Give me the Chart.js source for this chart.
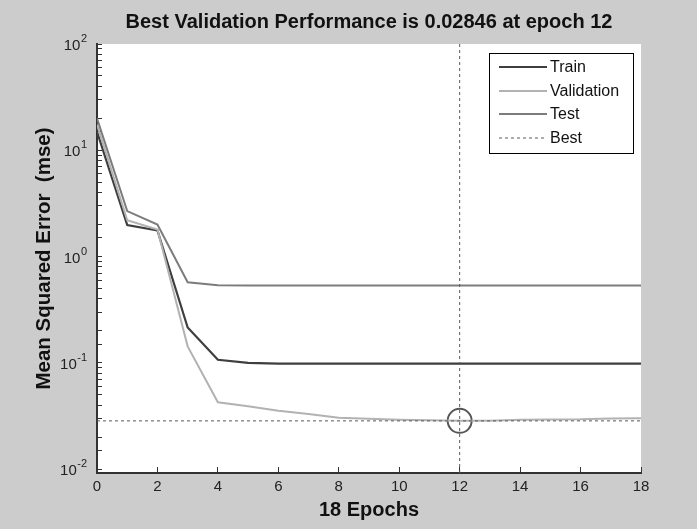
<!DOCTYPE html>
<html>
<head>
<meta charset="utf-8">
<script src="https://cdn.jsdelivr.net/npm/chart.js@4.4.1/dist/chart.umd.min.js"></script>
<style>
  html, body { margin: 0; padding: 0; background: #cccccc; }
  #wrap { width: 697px; height: 529px; }
</style>
</head>
<body>
<div id="wrap"><canvas id="c" width="697" height="529"></canvas></div>
<script>
const epochs = [0,1,2,3,4,5,6,7,8,9,10,11,12,13,14,15,16,17,18];
const trainMSE = [15, 1.98, 1.76, 0.215, 0.107, 0.100, 0.0985, 0.0985, 0.0985, 0.0985, 0.0985, 0.0985, 0.0985, 0.0985, 0.0985, 0.0985, 0.0985, 0.0985, 0.0985];
const validationMSE = [17.5, 2.2, 1.8, 0.143, 0.0426, 0.039, 0.0355, 0.033, 0.0305, 0.0298, 0.0292, 0.0288, 0.02846, 0.0285, 0.0292, 0.0293, 0.0294, 0.0300, 0.0302];
const testMSE = [20, 2.68, 2.0, 0.573, 0.536, 0.535, 0.535, 0.535, 0.535, 0.535, 0.535, 0.535, 0.535, 0.535, 0.535, 0.535, 0.535, 0.535, 0.535];
const bestEpoch = 12;
const bestValue = 0.02846;
const yMin = 0.0092, yMax = 100;
const xTickLabels = ['0','2','4','6','8','10','12','14','16','18'];
const yDecadeExponents = ['2','1','0','-1','-2'];

const FONT = "'Liberation Sans', Arial, sans-serif";
const colTrain = '#3e3e3e', colVal = '#b2b2b2', colTest = '#7c7c7c', colBest = '#5a5a5a';

const bgPlugin = {
  id: 'bg',
  beforeDraw(chart) {
    const {ctx, chartArea: a} = chart;
    ctx.save();
    ctx.fillStyle = '#cccccc';
    ctx.fillRect(0, 0, chart.width, chart.height);
    ctx.fillStyle = '#ffffff';
    ctx.fillRect(a.left, a.top, a.right - a.left, a.bottom - a.top);
    ctx.restore();
  }
};

// y tick labels "10" with a raised exponent, positioned by the log scale
const powerLabelPlugin = {
  id: 'powerLabels',
  afterDraw(chart) {
    const ctx = chart.ctx;
    const s = chart.scales.y;
    const xRight = 87;
    ctx.save();
    ctx.fillStyle = '#222222';
    yDecadeExponents.forEach(ex => {
      const y = s.getPixelForValue(Math.pow(10, Number(ex)));
      ctx.font = '11px ' + FONT;
      const ew = ctx.measureText(ex).width;
      ctx.textAlign = 'left';
      ctx.textBaseline = 'alphabetic';
      ctx.fillText(ex, xRight - ew, y - 2);
      ctx.font = '15px ' + FONT;
      ctx.textAlign = 'right';
      ctx.textBaseline = 'middle';
      ctx.fillText('10', xRight - ew - 0.5, y + 2);
    });
    ctx.restore();
  }
};

const legendPlugin = {
  id: 'boxLegend',
  afterDatasetsDraw(chart) {
    const ctx = chart.ctx;
    const x0 = 489, y0 = 53, w = 144, h = 100;
    ctx.save();
    ctx.fillStyle = '#ffffff';
    ctx.fillRect(x0, y0, w, h);
    ctx.strokeStyle = '#000000';
    ctx.lineWidth = 1;
    ctx.strokeRect(x0 + 0.5, y0 + 0.5, w, h);
    const items = [
      {label: 'Train', color: colTrain, dash: [], width: 2, y: 67},
      {label: 'Validation', color: colVal, dash: [], width: 2, y: 91},
      {label: 'Test', color: colTest, dash: [], width: 2, y: 114},
      {label: 'Best', color: colBest, dash: [3,3], width: 1, y: 138}
    ];
    ctx.font = '16px ' + FONT;
    ctx.textBaseline = 'middle';
    ctx.textAlign = 'left';
    items.forEach(it => {
      ctx.beginPath();
      ctx.setLineDash(it.dash);
      ctx.strokeStyle = it.color;
      ctx.lineWidth = it.width;
      ctx.moveTo(499, it.y);
      ctx.lineTo(547, it.y);
      ctx.stroke();
      ctx.setLineDash([]);
      ctx.fillStyle = '#111111';
      ctx.fillText(it.label, 550, it.y + 1);
    });
    ctx.restore();
  }
};

function toXY(arr) { return epochs.map((e, i) => ({x: e, y: arr[i]})); }

new Chart(document.getElementById('c'), {
  type: 'line',
  data: {
    datasets: [
      {label: 'Best', data: [{x: 0, y: bestValue}, {x: 18, y: bestValue}], borderColor: colBest, borderWidth: 1, borderDash: [3,3], pointRadius: 0, fill: false},
      {label: 'Best epoch', data: [{x: bestEpoch, y: yMin}, {x: bestEpoch, y: yMax}], borderColor: colBest, borderWidth: 1, borderDash: [3,3], pointRadius: 0, fill: false},
      {label: 'Test', data: toXY(testMSE), borderColor: colTest, borderWidth: 2, pointRadius: 0, tension: 0, fill: false},
      {label: 'Validation', data: toXY(validationMSE), borderColor: colVal, borderWidth: 2, pointRadius: 0, tension: 0, fill: false},
      {label: 'Train', data: toXY(trainMSE), borderColor: colTrain, borderWidth: 2.2, pointRadius: 0, tension: 0, fill: false},
      {label: 'Best point', data: [{x: bestEpoch, y: bestValue}], showLine: false, pointRadius: 12, pointHoverRadius: 12, pointStyle: 'circle', pointBackgroundColor: 'rgba(0,0,0,0)', pointBorderColor: '#555555', pointBorderWidth: 2}
    ]
  },
  options: {
    responsive: false,
    animation: false,
    events: [],
    layout: {padding: {left: 0, right: 56, top: 0, bottom: 0}},
    plugins: {
      legend: {display: false},
      tooltip: {enabled: false},
      title: {
        display: true,
        fullSize: false,
        text: 'Best Validation Performance is 0.02846 at epoch 12',
        color: '#111111',
        font: {family: FONT, size: 20, weight: 'bold', lineHeight: 1.2},
        padding: {top: 10, bottom: 10}
      }
    },
    scales: {
      x: {
        type: 'linear',
        min: 0, max: 18,
        afterFit(s) { s.height = 56; },
        afterBuildTicks(s) { s.ticks = xTickLabels.map(v => ({value: Number(v)})); },
        ticks: {
          autoSkip: false,
          maxRotation: 0,
          padding: 11,
          color: '#222222',
          font: {family: FONT, size: 15},
          callback: (v) => String(v)
        },
        grid: {display: true, drawOnChartArea: false, drawTicks: true, tickLength: -6, color: '#333333', lineWidth: 1},
        border: {display: true, color: '#333333', width: 2},
        title: {
          display: true, text: '18 Epochs', color: '#111111',
          font: {family: FONT, size: 20, weight: 'bold', lineHeight: 1.2},
          padding: {top: 0, bottom: 7}
        }
      },
      y: {
        type: 'logarithmic',
        min: yMin, max: yMax,
        afterFit(s) { s.width = 97; },
        ticks: {
          autoSkip: false,
          padding: 15,
          color: '#222222',
          font: {family: FONT, size: 15},
          callback: () => ''
        },
        grid: {display: true, drawOnChartArea: false, drawTicks: true, tickLength: -5, color: '#333333', lineWidth: 1},
        border: {display: true, color: '#333333', width: 2},
        title: {
          display: true, text: 'Mean Squared Error  (mse)', color: '#111111',
          font: {family: FONT, size: 20.5, weight: 'bold', lineHeight: 1.2},
          padding: {top: 32, bottom: 0}
        }
      }
    }
  },
  plugins: [bgPlugin, legendPlugin, powerLabelPlugin]
});
</script>
</body>
</html>
